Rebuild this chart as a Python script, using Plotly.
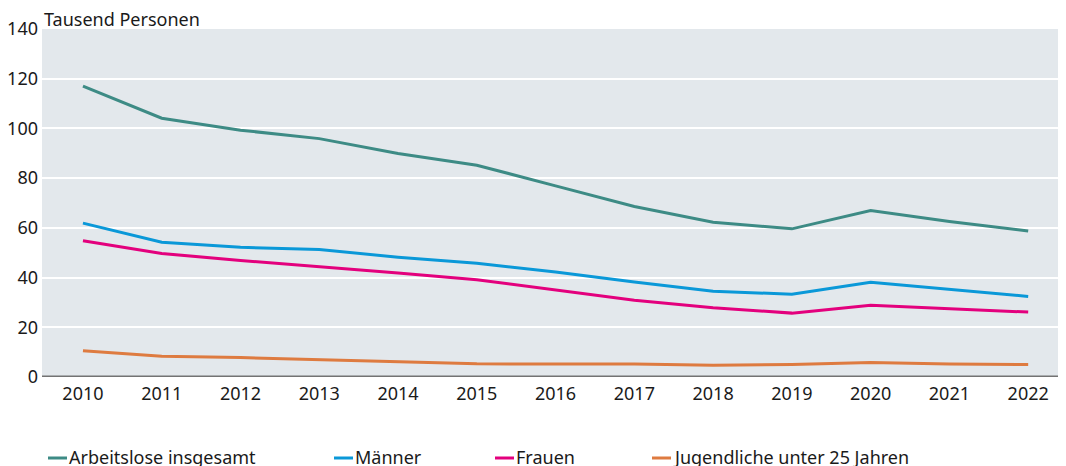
import plotly.graph_objects as go

years = [2010, 2011, 2012, 2013, 2014, 2015, 2016, 2017, 2018, 2019, 2020, 2021, 2022]
insgesamt = [117.0, 104.1, 99.3, 95.9, 89.9, 85.2, 76.9, 68.6, 62.3, 59.6, 67.0, 62.6, 58.7]
maenner = [61.9, 54.2, 52.2, 51.3, 48.2, 45.8, 42.2, 38.2, 34.5, 33.3, 38.1, 35.3, 32.4]
frauen = [54.8, 49.7, 46.9, 44.5, 41.8, 39.1, 35.1, 30.9, 27.9, 25.7, 28.9, 27.4, 26.1]
jugend = [10.6, 8.3, 7.8, 7.0, 6.0, 5.3, 5.2, 5.2, 4.7, 5.0, 5.8, 5.2, 5.0]

names = ["Arbeitslose insgesamt", "Männer", "Frauen", "Jugendliche unter 25 Jahren"]
colors = ["#3d8b85", "#0a98d8", "#e3007d", "#de7b40"]
series = [insgesamt, maenner, frauen, jugend]
y_ticks = [0, 20, 40, 60, 80, 100, 120, 140]

FONT = "Noto Sans"
FS = 18
TXT = "#1a1a1a"

# page offset (browser body margin)
OFF = 8
W, H = 1066 - OFF, 466 - OFF
ml, mr, mt, mb = 34, 0, 21, 89
pw = W - ml - mr
ph = H - mt - mb


def px(page_x):
    return (page_x - OFF - ml) / pw


def py(page_y):
    return (H - mb + OFF - page_y) / ph


fig = go.Figure()
for name, col, vals in zip(names, colors, series):
    fig.add_trace(go.Scatter(x=years, y=vals, mode="lines", name=name,
                             line=dict(color=col, width=3), showlegend=False))

# manual legend (short line + text)
leg_line_x = [48, 334, 495, 652]
leg_y_page = 457
shapes = [dict(type="line", xref="paper", yref="y", x0=0, x1=1, y0=0, y1=0,
               line=dict(color="#737373", width=3))]
annotations = [dict(text="Tausend Personen", x=0, xref="paper", y=1, yref="paper",
                    xanchor="left", yanchor="bottom", showarrow=False, xshift=0, yshift=-4,
                    font=dict(family=FONT, size=FS, color=TXT))]
for name, col, lx in zip(names, colors, leg_line_x):
    shapes.append(dict(type="line", xref="paper", yref="paper",
                       x0=px(lx), x1=px(lx + 19), y0=py(leg_y_page + 1), y1=py(leg_y_page + 1),
                       line=dict(color=col, width=3)))
    annotations.append(dict(text=name, xref="paper", yref="paper", x=px(lx + 19),
                            y=py(leg_y_page), xanchor="left", yanchor="middle",
                            showarrow=False, font=dict(family=FONT, size=FS, color=TXT)))

fig.update_layout(
    width=W, height=H,
    margin=dict(l=ml, r=mr, t=mt, b=mb),
    paper_bgcolor="white", plot_bgcolor="#e3e8ec",
    font=dict(family=FONT, size=FS, color=TXT),
    showlegend=False,
    xaxis=dict(range=[2009.48, 2022.48], tickvals=years, ticktext=[str(y) for y in years],
               showgrid=False, zeroline=False, showline=False, ticks="",
               ticklabelstandoff=4, tickfont=dict(family=FONT, size=FS, color=TXT)),
    yaxis=dict(range=[0, 140], tickvals=y_ticks, showgrid=True, gridcolor="white", gridwidth=2,
               zeroline=False, showline=False, ticks="", ticklabelstandoff=3,
               tickfont=dict(family=FONT, size=FS, color=TXT)),
    annotations=annotations,
    shapes=shapes,
)

fig.write_html("out.html")
